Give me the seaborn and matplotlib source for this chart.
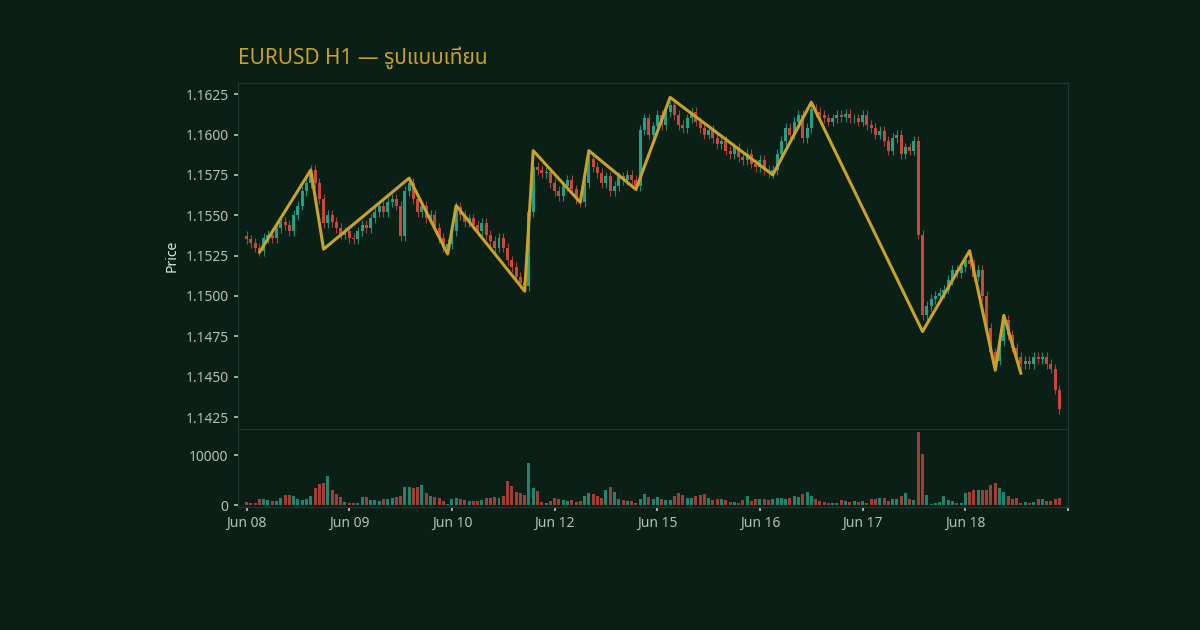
import matplotlib
matplotlib.use("Agg")
import matplotlib.pyplot as plt
import seaborn as sns
import numpy as np
import pandas as pd

closes = [
    1.1535, 1.1533, 1.1530, 1.1528,
    1.1536, 1.1538, 1.1536, 1.1542, 1.1546, 1.1544, 1.1540, 1.1550, 1.1556, 1.1565, 1.1570, 1.1578,
    1.1570, 1.1560, 1.1545,
    1.1550, 1.1546, 1.1542, 1.1538, 1.1540, 1.1536, 1.1535, 1.1540, 1.1544, 1.1542, 1.1548, 1.1552,
    1.1556, 1.1552, 1.1558, 1.1560, 1.1556, 1.1537, 1.1565, 1.1570,
    1.1560, 1.1552, 1.1556, 1.1548, 1.1550, 1.1542, 1.1536, 1.1530, 1.1532,
    1.1540, 1.1555,
    1.1550, 1.1546, 1.1548, 1.1544, 1.1540, 1.1545, 1.1538, 1.1534, 1.1530, 1.1536, 1.1530, 1.1522,
    1.1518, 1.1512, 1.1508, 1.1506,
    1.1552, 1.1580,
    1.1578, 1.1576, 1.1577, 1.1570, 1.1565, 1.1562, 1.1568, 1.1572, 1.1566, 1.1560, 1.1558,
    1.1570, 1.1585,
    1.1580, 1.1576, 1.1570, 1.1574, 1.1565, 1.1568, 1.1574, 1.1572, 1.1575, 1.1572, 1.1568,
    1.1603, 1.1610, 1.1600, 1.1605, 1.1612, 1.1606, 1.1614, 1.1618,
    1.1612, 1.1606, 1.1604, 1.1610, 1.1614, 1.1608, 1.1604, 1.1600, 1.1603, 1.1598, 1.1594, 1.1596,
    1.1590, 1.1588, 1.1592, 1.1586, 1.1584, 1.1588, 1.1582, 1.1580, 1.1584, 1.1578, 1.1576, 1.1578,
    1.1588, 1.1596, 1.1604, 1.1600, 1.1608, 1.1612, 1.1598, 1.1604, 1.1616,
    1.1614, 1.1612, 1.1610, 1.1608, 1.1610, 1.1612, 1.1611, 1.1613, 1.1610, 1.1610, 1.1608, 1.1612,
    1.1606, 1.1604, 1.1600, 1.1602, 1.1596, 1.1590, 1.1598, 1.1600, 1.1588, 1.1592, 1.1590, 1.1596,
    1.1538, 1.1488,
    1.1494, 1.1498, 1.1500, 1.1502, 1.1504, 1.1510, 1.1516, 1.1514, 1.1518, 1.1522, 1.1520,
    1.1512, 1.1516, 1.1500, 1.1480, 1.1465, 1.1460,
    1.1472, 1.1485,
    1.1476, 1.1468, 1.1462, 1.1458,
    1.1460, 1.1458, 1.1462, 1.1461, 1.1462, 1.1458, 1.1455, 1.1442, 1.1430,
]

volumes = [
    600, 400, 500, 1200, 1300, 1000, 900, 800, 1500, 2000, 2000, 1800, 1200, 1000, 1200, 1800, 3500, 4300, 4400, 5800, 3000, 2200, 1600, 600,
    400, 400, 500, 1600, 1600, 1000, 1000, 900, 1300, 1300, 1500, 1600, 1800, 3600, 3600, 3500, 3700, 4000, 2500, 1800, 1600, 1400, 800, 300,
    1300, 1500, 1300, 1000, 900, 900, 800, 1000, 1500, 1400, 1600, 1500, 1900, 4800, 3800, 2700, 2500, 2000, 8400, 3500, 2800, 700, 400, 900,
    1400, 1300, 1000, 800, 1000, 600, 900, 1900, 2500, 2200, 1800, 1500, 3100, 3600, 2700, 1200, 1000, 900, 800, 400, 1200, 2200, 1600, 1200,
    1600, 1300, 1000, 1100, 1800, 2400, 2000, 1500, 1400, 1800, 2000, 2200, 1400, 1000, 1300, 1300, 1000, 700, 600, 500, 1000, 1800, 900, 1200,
    1200, 1300, 1000, 1300, 1400, 1400, 1300, 1500, 1900, 1600, 2300, 2600, 1800, 1200, 900, 600, 400, 500, 400, 1000, 800, 700, 800, 600,
    800, 400, 1200, 1200, 1400, 1400, 800, 1200, 1300, 1900, 2500, 1200, 1000, 14600, 10300, 2000, 200, 500, 600, 1900, 1000, 900, 400, 500,
    2500, 2700, 3000, 3000, 3000, 3000, 4100, 4400, 3500, 2700, 1900, 1200, 1500, 400, 600, 400, 600, 1300, 1300, 900, 900, 1200, 1500,
]

# zigzag pivots (candle index, price)
pivot_idx = [3, 15, 18, 38, 47, 49, 65, 67, 78, 80, 91, 99, 123, 132, 158, 169, 175, 177, 181]
pivot_px = [1.1527, 1.1578, 1.1529, 1.1573, 1.1526, 1.1556, 1.1503, 1.1590, 1.1558, 1.1590,
            1.1566, 1.1623, 1.1575, 1.1620, 1.1478, 1.1528, 1.1454, 1.1488, 1.1452]

tick_pos = [0, 24, 48, 72, 96, 120, 144, 168, 192]
tick_labels = ["Jun 08", "Jun 09", "Jun 10", "Jun 12", "Jun 15", "Jun 16", "Jun 17", "Jun 18", ""]

BG = "#0a1f15"
UP = "#26a085"
DOWN = "#c8473f"
GOLD = "#c9a229"
GRID = "#1d3a30"
TXT = "#b4c0b8"

sns.set_theme(style="dark")
plt.rcParams["font.family"] = ["Noto Sans Thai", "Noto Sans", "DejaVu Sans"]

df = pd.DataFrame({"close": closes, "volume": volumes})
df["open"] = df["close"].shift(1).fillna(df["close"].iloc[0] + 0.0002)
df["high"] = df[["open", "close"]].max(axis=1) + 0.0003
df["low"] = df[["open", "close"]].min(axis=1) - 0.0003
df["idx"] = np.arange(len(df))
df["color"] = np.where(df["close"] >= df["open"], UP, DOWN)

fig = plt.figure(figsize=(12, 6.3), dpi=100, facecolor=BG)
ax = fig.add_axes([0.198, 0.319, 0.692, 0.549], facecolor=BG)
axv = fig.add_axes([0.198, 0.195, 0.692, 0.124], facecolor=BG, sharex=ax)

ax.vlines(df["idx"], df["low"], df["high"], colors=df["color"], linewidth=0.8, alpha=0.85)
ax.bar(df["idx"], (df["close"] - df["open"]).abs().clip(lower=0.00005),
       bottom=df[["open", "close"]].min(axis=1), width=0.7, color=df["color"], linewidth=0)

zz = pd.DataFrame({"idx": pivot_idx, "price": pivot_px})
sns.lineplot(data=zz, x="idx", y="price", ax=ax, color=GOLD, linewidth=2.2)

axv.bar(df["idx"], df["volume"], width=0.7, color=df["color"], alpha=0.8, linewidth=0)

ax.set_xlim(-2.1, 191.8)
ax.set_ylim(1.14176, 1.16318)
ax.set_yticks([1.1425, 1.1450, 1.1475, 1.1500, 1.1525, 1.1550, 1.1575, 1.1600, 1.1625])
ax.set_yticklabels([f"{v:.4f}" for v in ax.get_yticks()])
ax.set_ylabel("Price", color="#e0e6e2", fontsize=10)
ax.set_xlabel("")
axv.set_ylim(-400, 15200)
axv.set_yticks([0, 10000])
axv.set_xticks(tick_pos)
axv.set_xticklabels(tick_labels)

for a in (ax, axv):
    a.grid(False)
    a.tick_params(colors=TXT, labelsize=10, length=3, color=TXT, left=True, bottom=True)
    for s in a.spines.values():
        s.set_color(GRID)
        s.set_linewidth(0.8)
ax.tick_params(axis="x", bottom=False, labelbottom=False)

fig.text(0.198, 0.89, "EURUSD H1 — รูปแบบเทียน", color=GOLD, fontsize=15,
         fontweight="bold", ha="left", va="bottom")

fig.savefig("out.png", dpi=100, facecolor=BG)
